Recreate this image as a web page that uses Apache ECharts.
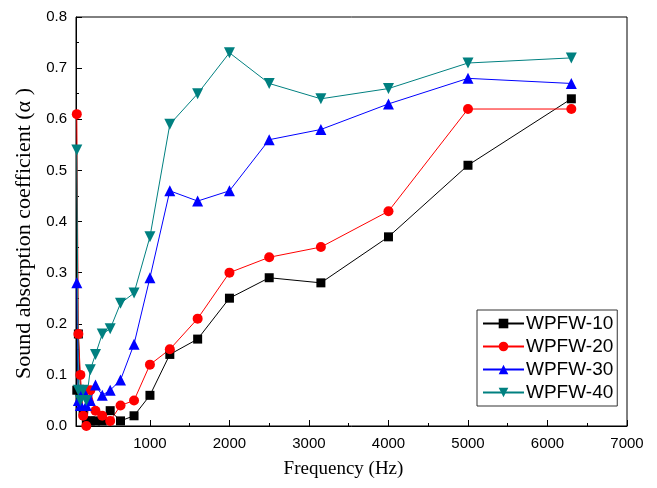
<!DOCTYPE html>
<html>
<head>
<meta charset="utf-8">
<script src="https://cdn.jsdelivr.net/npm/echarts@6/dist/echarts.min.js"></script>
<style>
  html, body { margin: 0; padding: 0; background: #fff; }
  #chart { width: 657px; height: 488px; }
</style>
</head>
<body>
<div id="chart"></div>
<script>
// 1/3 octave centre frequencies (Hz)
var freqs = [80, 100, 125, 160, 200, 250, 315, 400, 500, 630, 800, 1000, 1250, 1600, 2000, 2500, 3150, 4000, 5000, 6300]
var wpfw10 = [0.07, 0.18, 0.07, 0.03, 0.01, 0.01, 0.01, 0.01, 0.03, 0.01, 0.02, 0.06, 0.14, 0.17, 0.25, 0.29, 0.28, 0.37, 0.51, 0.64]
var wpfw20 = [0.61, 0.18, 0.10, 0.02, 0.00, 0.07, 0.03, 0.02, 0.01, 0.04, 0.05, 0.12, 0.15, 0.21, 0.30, 0.33, 0.35, 0.42, 0.62, 0.62]
var wpfw30 = [0.28, 0.05, 0.04, 0.07, 0.04, 0.05, 0.08, 0.06, 0.07, 0.09, 0.16, 0.29, 0.46, 0.44, 0.46, 0.56, 0.58, 0.63, 0.68, 0.67]
var wpfw40 = [0.54, 0.07, 0.05, 0.07, 0.05, 0.11, 0.14, 0.18, 0.19, 0.24, 0.26, 0.37, 0.59, 0.65, 0.73, 0.67, 0.64, 0.66, 0.71, 0.72]
var xMajor = [1000, 2000, 3000, 4000, 5000, 6000, 7000]
var xMinor = [500, 1500, 2500, 3500, 4500, 5500, 6500]

var X_MIN = 70
var X_MAX = 7000

function pairs(vals) {
  return freqs.map(function (f, i) { return [f, vals[i]] })
}

function makeSeries(name, vals, color, symbol, size, rotate) {
  return {
    name: name,
    type: 'line',
    data: pairs(vals),
    symbol: symbol,
    symbolSize: size,
    symbolRotate: rotate || 0,
    showAllSymbol: true,
    lineStyle: { color: color, width: 1 },
    itemStyle: { color: color },
    emphasis: { disabled: true },
    animation: false
  }
}

var chart = echarts.init(document.getElementById('chart'))
chart.setOption({
  animation: false,
  grid: {
    left: 76,
    right: 30,
    top: 17,
    bottom: 62,
    show: true,
    borderColor: '#000',
    borderWidth: 1
  },
  legend: {
    orient: 'vertical',
    left: 477,
    top: 310,
    padding: [3, 4, 3, 5],
    itemWidth: 41,
    itemHeight: 12,
    itemGap: 2,
    borderColor: '#333',
    borderWidth: 1,
    textStyle: {
      fontFamily: 'Liberation Sans, Arial, sans-serif',
      fontSize: 19,
      color: '#000',
      lineHeight: 21,
      padding: [0, 0, 0, -3]
    },
    data: ['WPFW-10', 'WPFW-20', 'WPFW-30', 'WPFW-40']
  },
  xAxis: [{
    type: 'value',
    min: X_MIN,
    max: X_MAX,
    name: 'Frequency (Hz)',
    nameLocation: 'middle',
    nameGap: 34,
    nameTextStyle: {
      fontFamily: 'Liberation Serif, Times New Roman, serif',
      fontSize: 19,
      color: '#000',
      padding: [0, 16, 0, 0]
    },
    axisLine: { show: true, onZero: false, lineStyle: { color: '#000', width: 1 } },
    axisTick: { show: true, inside: true, length: 6, customValues: xMajor, lineStyle: { color: '#000' } },
    axisLabel: {
      customValues: xMajor,
      margin: 10,
      fontFamily: 'Liberation Sans, Arial, sans-serif',
      fontSize: 15,
      color: '#000',
      formatter: function (v) { return String(v) }
    },
    splitLine: { show: false }
  }, {
    type: 'value',
    min: X_MIN,
    max: X_MAX,
    position: 'bottom',
    axisLine: { show: false },
    axisTick: { show: true, inside: true, length: 3, customValues: xMinor, lineStyle: { color: '#000' } },
    axisLabel: { show: false },
    splitLine: { show: false }
  }],
  yAxis: {
    type: 'value',
    min: 0,
    max: 0.8,
    interval: 0.1,
    name: 'Sound absorption coefficient (\u03b1 )',
    nameLocation: 'middle',
    nameGap: 38,
    nameTextStyle: {
      fontFamily: 'Liberation Serif, Times New Roman, serif',
      fontSize: 22,
      color: '#000',
      padding: [0, 24, 0, 0]
    },
    axisLine: { show: true, lineStyle: { color: '#000', width: 1 } },
    axisTick: { show: true, inside: true, length: 6, lineStyle: { color: '#000' } },
    minorTick: { show: true, splitNumber: 2, length: 3, lineStyle: { color: '#000' } },
    axisLabel: {
      margin: 9,
      fontFamily: 'Liberation Sans, Arial, sans-serif',
      fontSize: 15,
      color: '#000',
      formatter: function (v) { return v.toFixed(1) }
    },
    splitLine: { show: false }
  },
  series: [
    makeSeries('WPFW-10', wpfw10, '#000000', 'rect', 9),
    makeSeries('WPFW-20', wpfw20, '#ff0000', 'circle', 10),
    makeSeries('WPFW-30', wpfw30, '#0000ff', 'triangle', 11),
    makeSeries('WPFW-40', wpfw40, '#008080', 'triangle', 11, 180)
  ]
})
</script>
</body>
</html>
